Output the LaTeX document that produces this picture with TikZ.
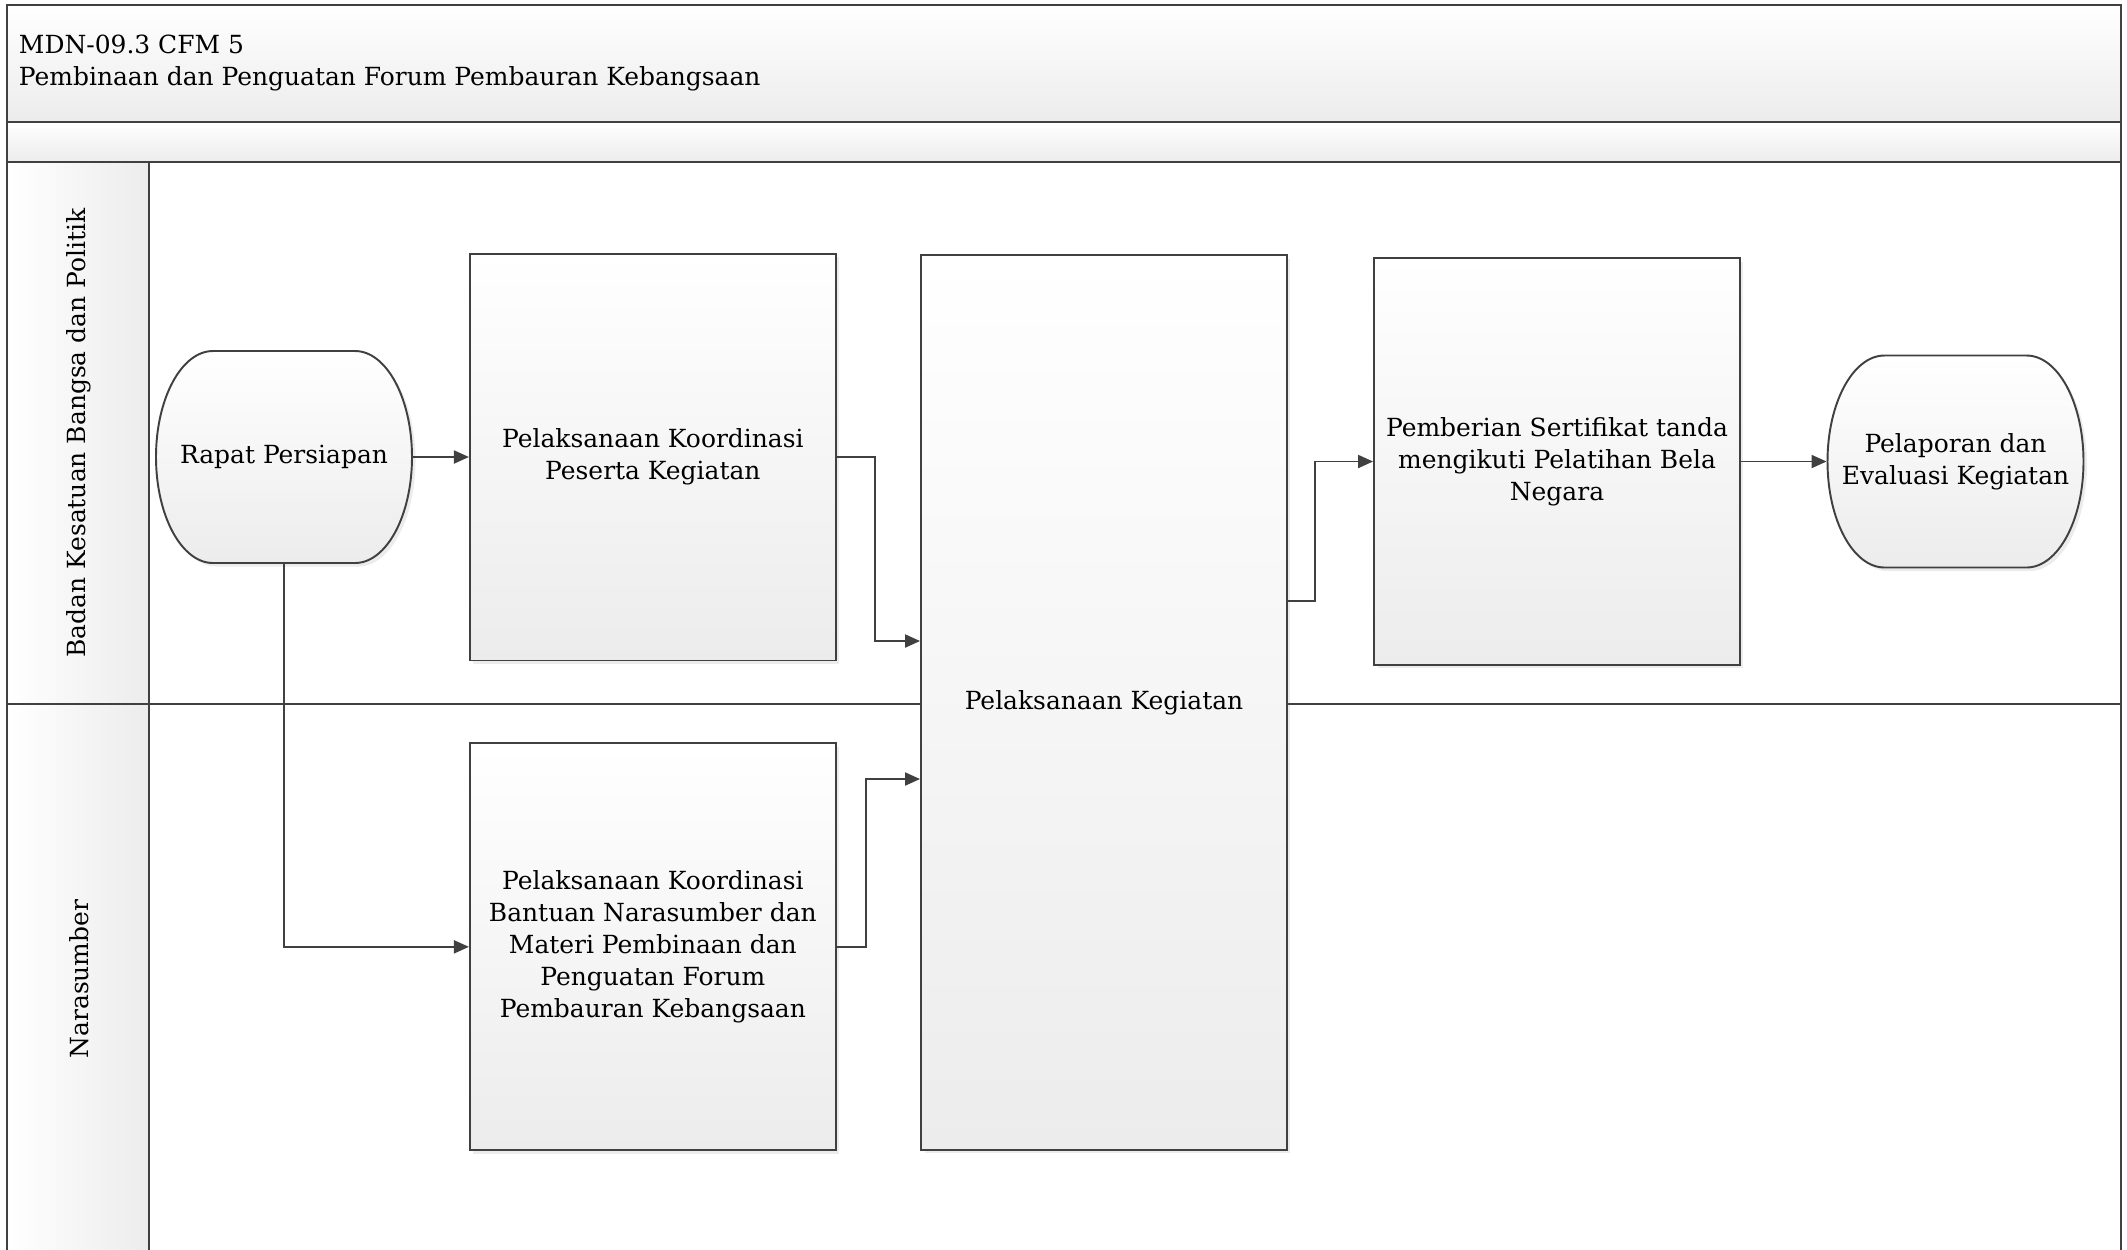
\documentclass[tikz,border=0pt]{standalone}
\usepackage{fontspec}
\setmainfont{DejaVu Serif}
\usetikzlibrary{arrows.meta, positioning, calc, shadows}
\definecolor{linegray}{RGB}{64,64,64}
\definecolor{fillgray}{RGB}{236,236,236}

% terminator outline, centred at (#1,#2)
\newcommand{\termshape}[2]{%
  \path[termbody, shift={(#1,#2)}] (-71,-106) -- (71,-106)
    arc[start angle=-90, end angle=90, x radius=57, y radius=106] -- (-71,106)
    arc[start angle=90, end angle=270, x radius=57, y radius=106] -- cycle;}

\begin{document}
\begin{tikzpicture}[x=0.02cm, y=-0.02cm, >={Triangle[length=0.3cm, width=0.26cm]},
    font=\fontsize{14.2}{18.1}\selectfont, line width=1.1pt,
    box/.style={draw=linegray, rectangle, top color=white, bottom color=fillgray, minimum width=7.32cm, minimum height=8.14cm, align=center, drop shadow={shadow xshift=2pt, shadow yshift=-2pt, opacity=0.15}},
    termtext/.style={rectangle, minimum width=5.12cm, minimum height=4.26cm, align=center},
    termbody/.style={draw=linegray, top color=white, bottom color=fillgray, drop shadow={shadow xshift=2pt, shadow yshift=-2pt, opacity=0.15}},
    band/.style={draw=linegray, top color=white, bottom color=fillgray},
    flow/.style={->, draw=linegray}]
  \clip (0,0) rectangle (2127,1249);
  % frame and lanes
  \path[band] (7,5) rectangle (2121,122);
  \path[band] (7,122) rectangle (2121,162);
  \draw[linegray] (7,162) rectangle (2121,1270);
  \path[draw=linegray, left color=white, right color=fillgray] (7,162) rectangle (149,1270);
  \draw[linegray] (7,704) -- (2121,704);
  \node[anchor=west, align=left, inner sep=0pt] (title) at (18,63) {MDN-09.3 CFM 5\\Pembinaan dan Penguatan Forum Pembauran Kebangsaan};
  \node[rotate=90] (lanebakes) at (79,433) {Badan Kesatuan Bangsa dan Politik};
  \node[rotate=90] (lanenara) at (79,979) {Narasumber};

  \termshape{284}{457}
  \node[termtext] (rapat) at (284,457) {Rapat Persiapan};
  \node[box, right=1.12cm of rapat] (koord) {Pelaksanaan Koordinasi\\Peserta Kegiatan};
  \node[box, below=1.62cm of koord] (narasumber) {Pelaksanaan Koordinasi\\Bantuan Narasumber dan\\Materi Pembinaan dan\\Penguatan Forum\\Pembauran Kebangsaan};
  \node[box, minimum height=17.9cm] (kegiatan) at (1104,702.5) {Pelaksanaan Kegiatan};
  \node[box] (sertifikat) at (1557,461.5) {Pemberian Sertifikat tanda\\mengikuti Pelatihan Bela\\Negara};
  \termshape{1955.5}{461.5}
  \node[termtext] (pelaporan) at (1955.5,461.5) {Pelaporan dan\\Evaluasi Kegiatan};

  \draw[flow] (rapat.east) -- (koord.west);
  \draw[flow] (rapat.south) |- (narasumber.west);
  \draw[flow] (koord.east) -- ++(38,0) |- ($(kegiatan.west)+(0,-61.5)$);
  \draw[flow] (narasumber.east) -- ++(29,0) |- ($(kegiatan.west)+(0,76.5)$);
  \draw[flow] ($(kegiatan.east)+(0,-101.5)$) -- ++(27,0) |- (sertifikat.west);
  \draw[flow] (sertifikat.east) -- (pelaporan.west);
\end{tikzpicture}
\end{document}
